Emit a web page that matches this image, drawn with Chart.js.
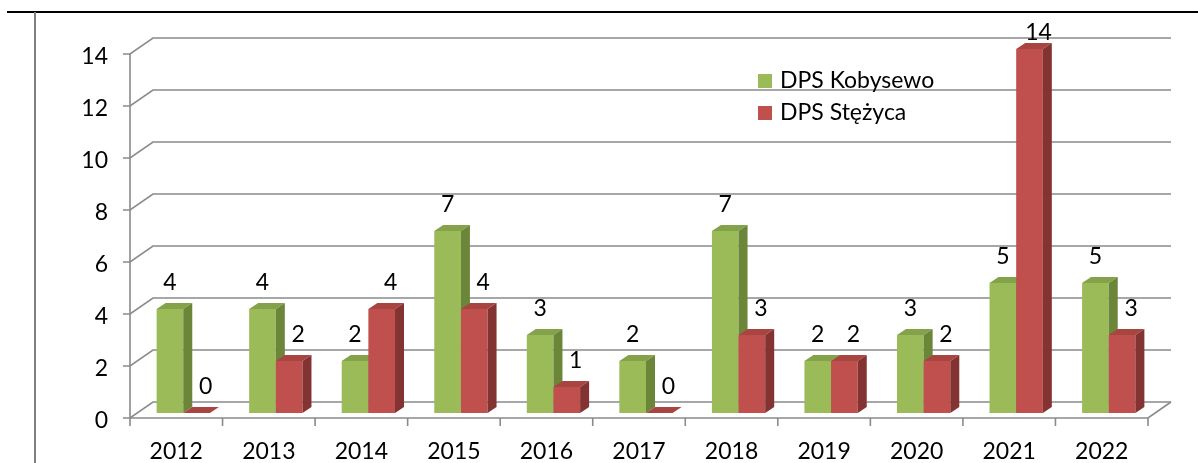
<!DOCTYPE html>
<html>
<head>
<meta charset="utf-8">
<script src="https://cdn.jsdelivr.net/npm/chart.js@4.4.1/dist/chart.umd.min.js"></script>
<style>
  html, body { margin: 0; padding: 0; background: #fff; }
  #wrap { width: 1198px; height: 463px; position: relative; }
</style>
</head>
<body>
<div id="wrap"><canvas id="chart"></canvas></div>
<script>
const years = ["2012", "2013", "2014", "2015", "2016", "2017", "2018", "2019", "2020", "2021", "2022"];
const dpsKobysewo = [4, 4, 2, 7, 3, 2, 7, 2, 3, 5, 5];
const dpsStezyca = [0, 2, 4, 4, 1, 0, 3, 2, 2, 14, 3];
const seriesNames = ["DPS Kobysewo", "DPS Stężyca"];
const yTickValues = [0, 2, 4, 6, 8, 10, 12, 14];

const FONT = '23px Lato';
const GRID = "#8a8a8a";
const WALL = { dx: 23, dy: -16 };      // back wall offset
const BAR_SHIFT = { dx: 7, dy: -5 };   // bar front plane offset
const BAR_DEPTH = { dx: 9, dy: -6 };   // bar thickness
const valueNudge = [0, 9];

const faces = [
  { front: "#9bbb59", top: "#84a24a", side: "#6b8638" },
  { front: "#c0504d", top: "#a94541", side: "#833432" },
];

function poly(ctx, pts, fill) {
  ctx.beginPath();
  ctx.moveTo(pts[0][0], pts[0][1]);
  for (let k = 1; k < pts.length; k++) ctx.lineTo(pts[k][0], pts[k][1]);
  ctx.closePath();
  ctx.fillStyle = fill;
  ctx.fill();
}

function drawWalls(chart) {
  const ctx = chart.ctx;
  const { left, right, bottom } = chart.chartArea;
  const xs = chart.scales.x;
  const ys = chart.scales.y;

  ctx.save();
  ctx.strokeStyle = GRID;
  ctx.lineWidth = 1.6;
  ctx.font = FONT;
  ctx.fillStyle = "#000";
  ctx.textAlign = "right";
  ctx.textBaseline = "middle";

  yTickValues.forEach((v) => {
    const py = ys.getPixelForValue(v);
    ctx.beginPath();
    ctx.moveTo(left - 7, py);
    ctx.lineTo(left, py);
    ctx.lineTo(left + WALL.dx, py + WALL.dy);
    ctx.lineTo(right + WALL.dx, py + WALL.dy);
    ctx.stroke();
    ctx.fillText(String(v), left - 22, py + 3);
  });

  // value axis
  ctx.beginPath();
  ctx.moveTo(left, ys.getPixelForValue(yTickValues[yTickValues.length - 1]));
  ctx.lineTo(left, bottom);
  ctx.stroke();

  // floor front + right edge
  ctx.beginPath();
  ctx.moveTo(left, bottom);
  ctx.lineTo(right, bottom);
  ctx.lineTo(right + WALL.dx, bottom + WALL.dy);
  ctx.stroke();

  // category ticks and labels
  const half = (xs.getPixelForValue(1) - xs.getPixelForValue(0)) / 2;
  ctx.textAlign = "center";
  for (let i = 0; i <= years.length; i++) {
    const px = xs.getPixelForValue(i) - half;
    ctx.beginPath();
    ctx.moveTo(px, bottom);
    ctx.lineTo(px, bottom + 8);
    ctx.stroke();
  }
  years.forEach((yr, i) => {
    ctx.fillText(yr, xs.getPixelForValue(i), bottom + 34);
  });
  ctx.restore();
}

function barBox(el) {
  const x0 = el.x - el.width / 2 + BAR_SHIFT.dx;
  return { x0, x1: x0 + el.width, yTop: el.y + BAR_SHIFT.dy, yBase: el.base + BAR_SHIFT.dy };
}

function drawBars(chart) {
  const ctx = chart.ctx;
  const metas = chart.data.datasets.map((_, d) => chart.getDatasetMeta(d));
  const ddx = BAR_DEPTH.dx, ddy = BAR_DEPTH.dy;
  ctx.save();
  for (let i = 0; i < years.length; i++) {
    metas.forEach((meta, d) => {
      const b = barBox(meta.data[i]);
      const f = faces[d];
      ctx.fillStyle = f.front;
      ctx.fillRect(b.x0, b.yTop, b.x1 - b.x0, b.yBase - b.yTop);
      poly(ctx, [[b.x0, b.yTop], [b.x1, b.yTop], [b.x1 + ddx, b.yTop + ddy], [b.x0 + ddx, b.yTop + ddy]], f.top);
      poly(ctx, [[b.x1, b.yTop], [b.x1 + ddx, b.yTop + ddy], [b.x1 + ddx, b.yBase + ddy], [b.x1, b.yBase]], f.side);
    });
  }
  ctx.restore();
}

function drawValues(chart) {
  const ctx = chart.ctx;
  ctx.save();
  ctx.font = FONT;
  ctx.fillStyle = "#000";
  ctx.textAlign = "center";
  ctx.textBaseline = "middle";
  chart.data.datasets.forEach((ds, d) => {
    const meta = chart.getDatasetMeta(d);
    ds.data.forEach((v, i) => {
      const b = barBox(meta.data[i]);
      const y = Math.max(33, b.yTop - 26);
      ctx.fillText(String(v), (b.x0 + b.x1) / 2 + valueNudge[d], y);
    });
  });
  ctx.restore();
}

function drawLegend(chart) {
  const ctx = chart.ctx;
  ctx.save();
  ctx.font = FONT;
  ctx.textAlign = "left";
  ctx.textBaseline = "middle";
  seriesNames.forEach((name, d) => {
    const y = 74 + d * 32;
    ctx.fillStyle = faces[d].front;
    ctx.fillRect(758, y, 14, 14);
    ctx.fillStyle = "#000";
    ctx.fillText(name, 780, y + 7);
  });
  ctx.restore();
}

const frame3d = {
  id: "frame3d",
  beforeDraw(chart) {
    const ctx = chart.ctx;
    ctx.save();
    ctx.strokeStyle = "#000";
    ctx.lineWidth = 2;
    ctx.beginPath();
    ctx.moveTo(7, 12);
    ctx.lineTo(1198, 12);
    ctx.stroke();
    ctx.strokeStyle = "#7f7f7f";
    ctx.beginPath();
    ctx.moveTo(35, 12);
    ctx.lineTo(35, 463);
    ctx.stroke();
    ctx.restore();
  },
  beforeDatasetsDraw(chart) {
    drawWalls(chart);
    drawBars(chart);
    drawValues(chart);
    return false;
  },
  afterDraw(chart) {
    drawLegend(chart);
  },
};

new Chart(document.getElementById("chart"), {
  type: "bar",
  data: {
    labels: years,
    datasets: [
      { label: seriesNames[0], data: dpsKobysewo, backgroundColor: faces[0].front },
      { label: seriesNames[1], data: dpsStezyca, backgroundColor: faces[1].front },
    ],
  },
  options: {
    responsive: true,
    maintainAspectRatio: false,
    animation: false,
    layout: { padding: { left: 130, right: 50, top: 54, bottom: 45 } },
    datasets: { bar: { categoryPercentage: 0.576, barPercentage: 1 } },
    scales: {
      x: { display: false },
      y: { display: false, min: 0, max: 14 },
    },
    plugins: {
      legend: { display: false },
      tooltip: { enabled: false },
    },
  },
  plugins: [frame3d],
});
</script>
</body>
</html>
